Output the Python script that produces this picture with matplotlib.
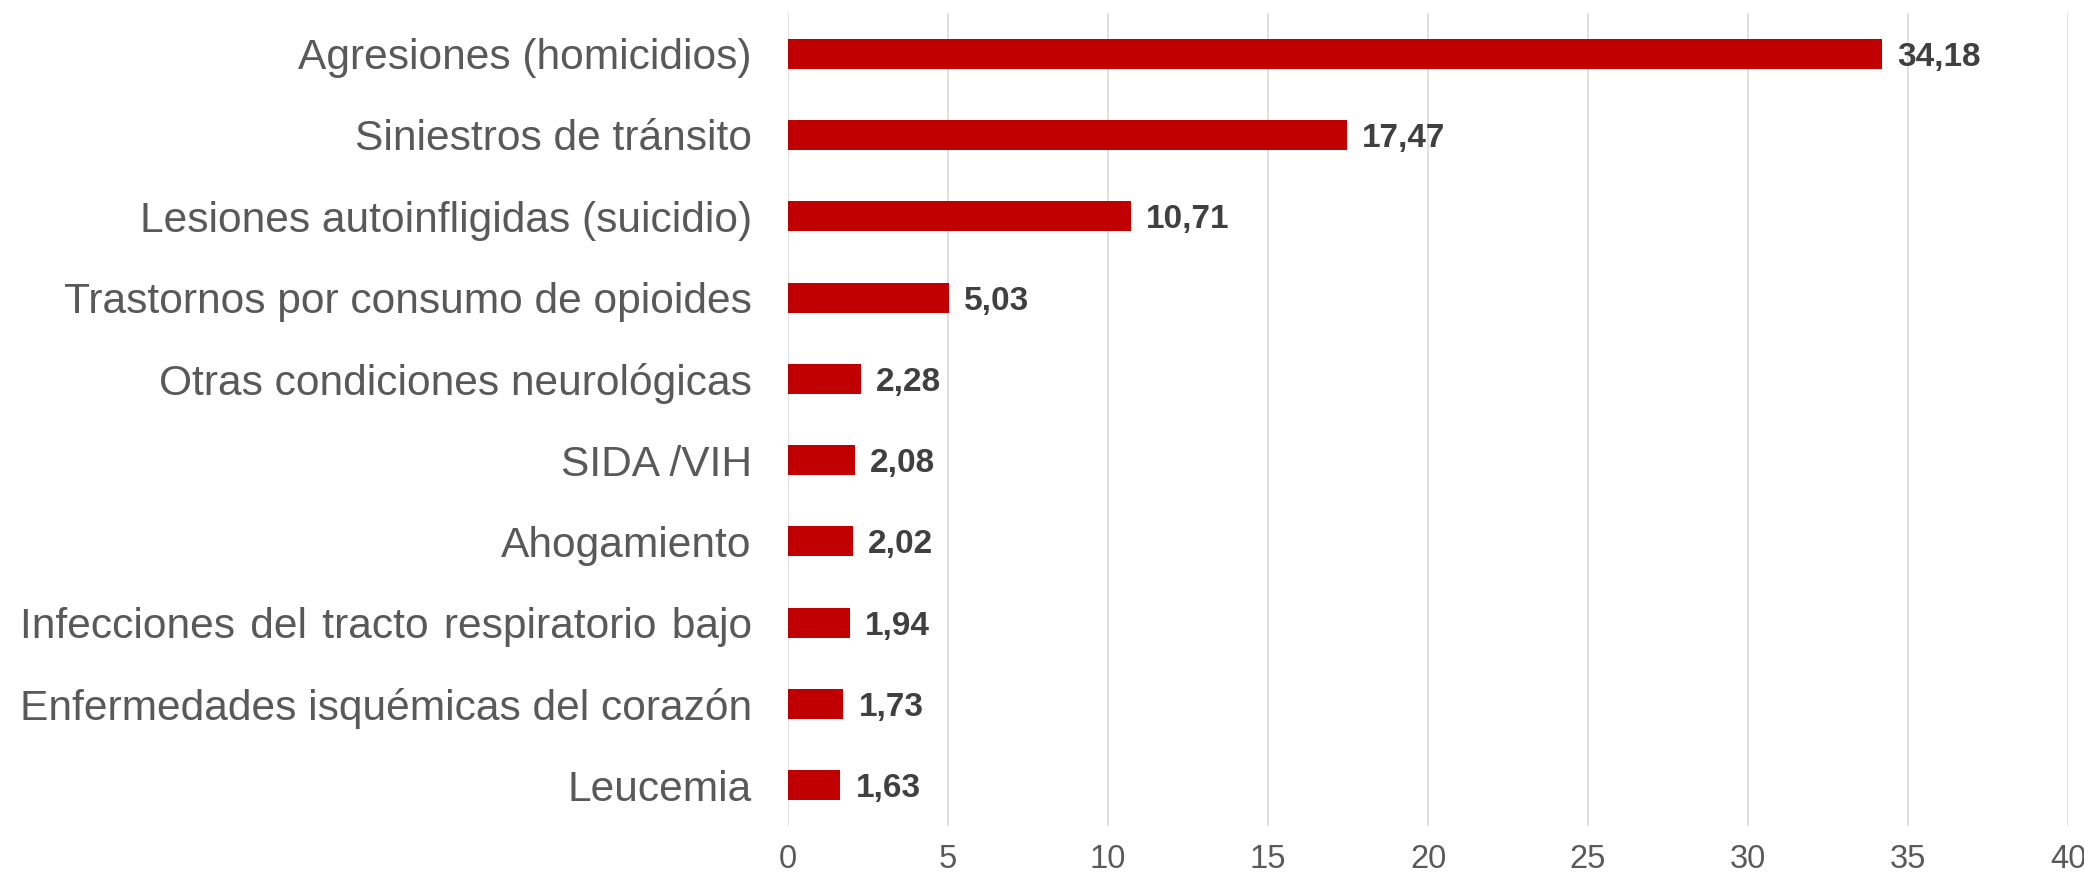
import matplotlib
matplotlib.use("Agg")
import matplotlib.pyplot as plt

categories = [
    "Agresiones (homicidios)",
    "Siniestros de tránsito",
    "Lesiones autoinfligidas (suicidio)",
    "Trastornos por consumo de opioides",
    "Otras condiciones neurológicas",
    "SIDA /VIH",
    "Ahogamiento",
    "Infecciones \u200adel \u200atracto \u200arespiratorio \u200abajo",
    "Enfermedades isquémicas del corazón",
    "Leucemia",
]
values = [34.18, 17.47, 10.71, 5.03, 2.28, 2.08, 2.02, 1.94, 1.73, 1.63]
value_labels = ["34,18", "17,47", "10,71", "5,03", "2,28", "2,08", "2,02", "1,94", "1,73", "1,63"]
xticks = [0, 5, 10, 15, 20, 25, 30, 35, 40]

plt.rcParams['font.family'] = ['Liberation Sans', 'DejaVu Sans']

fig = plt.figure(figsize=(20.84, 8.8), dpi=100)
ax = fig.add_axes([788/2084, 1-826/880, (2068-788)/2084, (826-13)/880])

ypos = list(range(len(categories)))
ax.barh(ypos, values, height=0.37, color="#C00000", zorder=3)
ax.set_ylim(len(categories)-0.5, -0.5)
ax.set_xlim(0, 40)
ax.set_xticks(xticks)
ax.set_xticklabels([str(t) for t in xticks])
ax.set_yticks(ypos)
ax.set_yticklabels(categories)

for s in ax.spines.values():
    s.set_visible(False)
ax.tick_params(axis='x', length=0, labelsize=23.5, labelcolor="#595959", pad=13)
ax.tick_params(axis='y', length=0, labelsize=30.6, labelcolor="#595959", pad=26)
ax.xaxis.grid(True, color="#D9D9D9", linewidth=1.1, zorder=0)
ax.set_axisbelow(True)

for y, v, lab in zip(ypos, values, value_labels):
    ax.annotate(lab, xy=(v, y), xytext=(11, 0), textcoords="offset points",
                ha="left", va="center_baseline", fontsize=24, fontweight="bold", color="#404040")

fig.savefig("out.png", dpi=100, facecolor="white")
